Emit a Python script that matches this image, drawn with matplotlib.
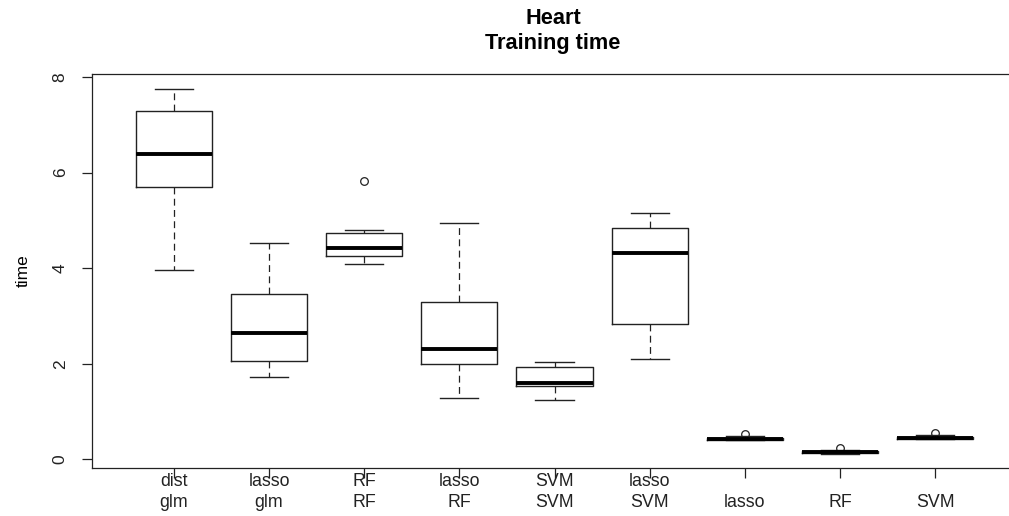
import matplotlib
matplotlib.use("Agg")
import matplotlib.pyplot as plt

plt.rcParams['font.family'] = ['Liberation Sans', 'DejaVu Sans']

# etiquetas de cada modelo (dos lineas donde aplica)
etiquetas = ["dist\nglm", "lasso\nglm", "RF\nRF", "lasso\nRF", "SVM\nSVM",
             "lasso\nSVM", "lasso", "RF", "SVM"]

# estadisticos
bigote_inf = [3.96, 1.72, 4.08, 1.28, 1.24, 2.09, 0.41, 0.12, 0.43]
q1 = [5.70, 2.05, 4.25, 1.99, 1.53, 2.83, 0.41, 0.13, 0.43]
mediana = [6.39, 2.64, 4.42, 2.30, 1.60, 4.31, 0.43, 0.16, 0.45]
q3 = [7.29, 3.46, 4.73, 3.29, 1.93, 4.84, 0.44, 0.18, 0.47]
bigote_sup = [7.75, 4.52, 4.80, 4.94, 2.03, 5.15, 0.49, 0.19, 0.51]
atipicos = [[], [], [5.82], [], [], [], [0.53], [0.24], [0.56]]

stats = []
for i in range(len(etiquetas)):
    stats.append(dict(whislo=bigote_inf[i], q1=q1[i], med=mediana[i],
                      q3=q3[i], whishi=bigote_sup[i], fliers=atipicos[i]))

fig = plt.figure(figsize=(10.09, 5.16), dpi=100)
# el marco de R se sale un poco por la derecha de la imagen
ax = fig.add_axes([92 / 1009, 48 / 516, 925 / 1009, 394 / 516])

pos = list(range(1, len(etiquetas) + 1))
ax.bxp(stats, positions=pos, widths=0.8, capwidths=0.4,
       boxprops=dict(color='#222222', lw=1.0),
       whiskerprops=dict(color='#222222', lw=0.9, linestyle=(0, (5.5, 3.5))),
       capprops=dict(color='#222222', lw=1.0),
       medianprops=dict(color='black', lw=2.8, solid_capstyle='butt'),
       flierprops=dict(marker='o', markerfacecolor='none', markeredgecolor='#222222',
                       markersize=5.5, markeredgewidth=0.9))

ax.set_xlim(0.14, 9.86)
ax.set_ylim(-0.18, 8.06)

ax.set_yticks([0, 2, 4, 6, 8])
ax.set_yticklabels(["0", "2", "4", "6", "8"], rotation=90, va='center', fontsize=12.5)
ax.set_xticks(pos)
ax.set_xticklabels(etiquetas, fontsize=12.8, linespacing=1.3)
for t in ax.get_xticklabels():
    t.set_verticalalignment('bottom')
ax.tick_params(axis='x', direction='out', length=7.5, width=0.9, pad=23.5, colors='#222222')
ax.tick_params(axis='y', direction='out', length=7.5, width=0.9, pad=10, colors='#222222')

for s in ax.spines.values():
    s.set_color('#222222')
    s.set_linewidth(0.9)
ax.spines['right'].set_visible(False)

ax.set_ylabel("time", fontsize=12.5, labelpad=16)
fig.text(553 / 1009, 1 - 18 / 516, "Heart", ha='center', va='center',
         fontsize=15.7, fontweight='bold')
fig.text(553 / 1009, 1 - 44 / 516, "Training time", ha='center', va='center',
         fontsize=15.7, fontweight='bold')

fig.savefig("out.png", dpi=100)
